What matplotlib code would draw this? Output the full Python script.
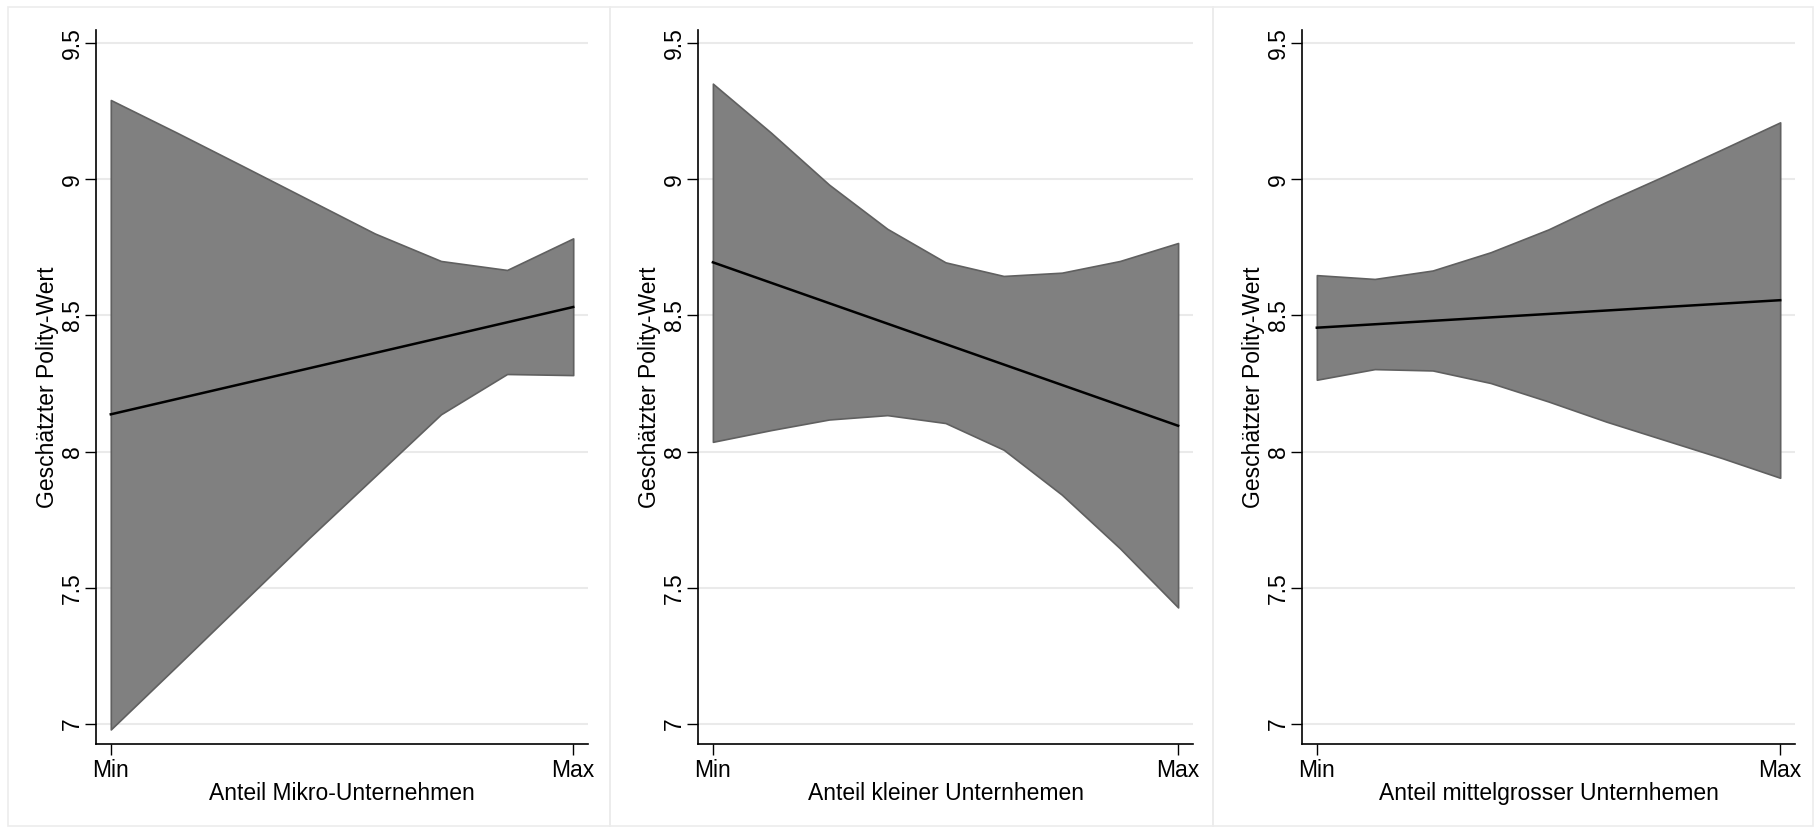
import matplotlib
matplotlib.use("Agg")
import matplotlib.pyplot as plt
from matplotlib.patches import Rectangle

plt.rcParams['font.family'] = ['Liberation Sans', 'DejaVu Sans']

# ---- data (x normalised: 0 = Min, 1 = Max) ----
x_micro = [0.0, 0.143, 0.286, 0.429, 0.571, 0.714, 0.857, 1.0]
upper_micro = [9.291, 9.171, 9.048, 8.924, 8.801, 8.700, 8.667, 8.783]
lower_micro = [6.980, 7.213, 7.448, 7.683, 7.909, 8.137, 8.285, 8.281]
line_micro = [8.137, 8.531]

x_small = [0.0, 0.125, 0.25, 0.375, 0.5, 0.625, 0.75, 0.875, 1.0]
upper_small = [9.351, 9.171, 8.980, 8.818, 8.695, 8.645, 8.657, 8.700, 8.766]
lower_small = [8.036, 8.079, 8.118, 8.134, 8.105, 8.007, 7.842, 7.645, 7.428]
line_small = [8.695, 8.095]

x_medium = [0.0, 0.125, 0.25, 0.375, 0.5, 0.625, 0.75, 0.875, 1.0]
upper_medium = [8.648, 8.634, 8.665, 8.732, 8.816, 8.917, 9.012, 9.110, 9.209]
lower_medium = [8.264, 8.303, 8.298, 8.252, 8.184, 8.110, 8.043, 7.976, 7.904]
line_medium = [8.455, 8.556]

line_x = [0.0, 1.0]
xtick_labels = ["Min", "Max"]
yticks = [7, 7.5, 8, 8.5, 9, 9.5]
ytick_labels = ["7", "7.5", "8", "8.5", "9", "9.5"]
xlabels = ["Anteil Mikro-Unternehmen", "Anteil kleiner Unternhemen",
           "Anteil mittelgrosser Unternhemen"]
ylabel = "Geschätzter Polity-Wert"

panels = [
    (x_micro, upper_micro, lower_micro, line_micro),
    (x_small, upper_small, lower_small, line_small),
    (x_medium, upper_medium, lower_medium, line_medium),
]

W, H = 1816, 827
fig = plt.figure(figsize=(W / 100, H / 100), dpi=100)
fig.patch.set_facecolor("white")

# panel frames (pixel coords)
frames = [(8, 610), (610, 1213), (1213, 1813)]
for x0, x1 in frames:
    fig.patches.append(Rectangle((x0 / W, 1 - 826 / H), (x1 - x0) / W, (826 - 7) / H,
                                 transform=fig.transFigure, fill=False,
                                 edgecolor="#ececec", linewidth=1.2))

axes_px = [(96, 588), (698, 1193), (1302, 1795)]
top_px, bot_px = 30, 744
fs = 16.5

for (xs, up, lo, ln), (l, r), xl in zip(panels, axes_px, xlabels):
    ax = fig.add_axes([l / W, 1 - bot_px / H, (r - l) / W, (bot_px - top_px) / H])
    ax.set_xlim(-0.032, 1.032)
    ax.set_ylim(6.9266, 9.548)
    for yv in yticks:
        ax.axhline(yv, color="#eaeaea", linewidth=1.5, zorder=0)
    ax.fill_between(xs, lo, up, facecolor="#808080", edgecolor="#606060",
                    linewidth=1.2, zorder=2)
    ax.plot(line_x, ln, color="black", linewidth=1.8, zorder=3)
    ax.set_xticks(line_x)
    ax.set_xticklabels(xtick_labels, fontsize=fs)
    ax.set_yticks(yticks)
    ax.set_yticklabels(ytick_labels, fontsize=fs, rotation=90, va="center")
    ax.tick_params(axis="both", length=8, width=1, color="black")
    ax.tick_params(axis="x", pad=3)
    ax.tick_params(axis="y", pad=1)
    for s in ["top", "right"]:
        ax.spines[s].set_visible(False)
    for s in ["left", "bottom"]:
        ax.spines[s].set_linewidth(1.2)
    ax.set_xlabel(xl, fontsize=fs, labelpad=0)
    ax.set_ylabel(ylabel, fontsize=fs, labelpad=1)
    ax.set_facecolor("white")

fig.savefig("out.png", dpi=100)
